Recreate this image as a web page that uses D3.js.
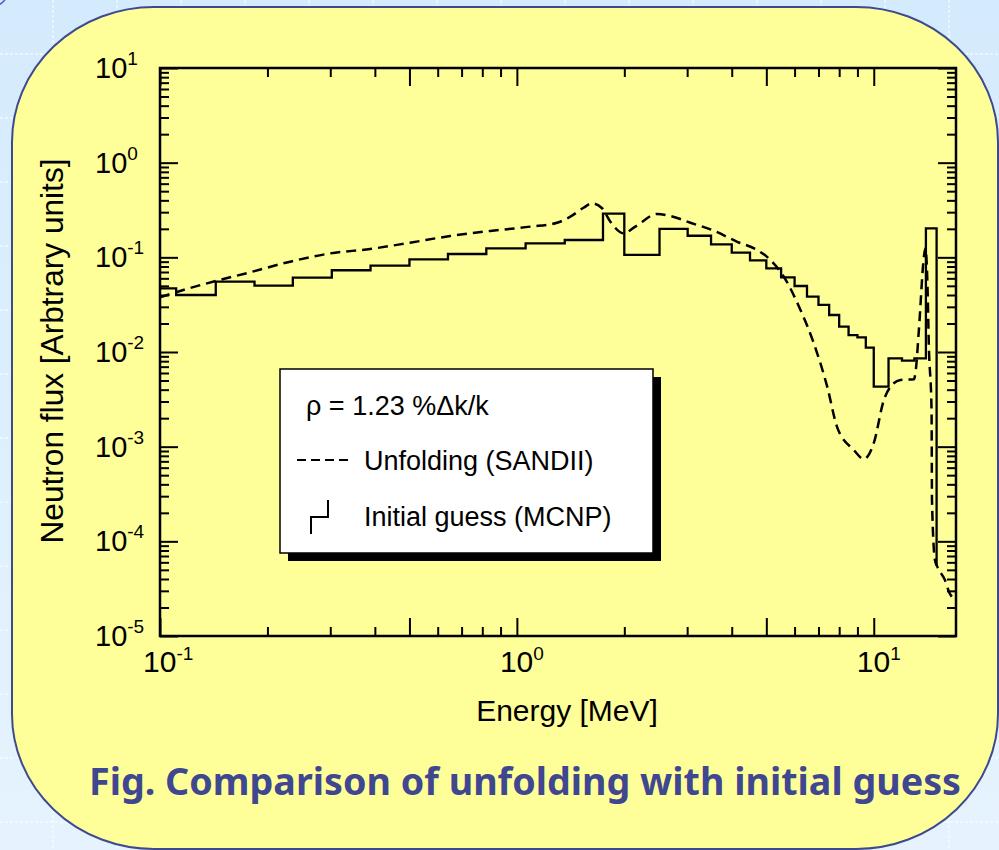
<!DOCTYPE html>
<html>
<head>
<meta charset="utf-8">
<script src="https://cdn.jsdelivr.net/npm/d3@7"></script>
<style>
body { margin: 0; background: #d6ecfd; }
svg { display: block; }
</style>
</head>
<body>
<svg width="999" height="850"></svg>
<script>
// MCNP initial guess: group boundaries [MeV] and flux per group
var mcnpEdges = [0.1, 0.111, 0.1433, 0.184, 0.2356, 0.303, 0.389, 0.5, 0.641, 0.821, 1.058, 1.362, 1.743, 2.0,
    2.51, 3.01, 3.5, 4.0, 4.5, 5.0, 5.5, 6.0, 6.5, 7.0, 7.5, 8.0, 8.5, 9.0, 9.5, 10, 11, 12, 13, 14, 15];
var mcnpFlux = [0.0471, 0.040, 0.0553, 0.0502, 0.061, 0.073, 0.0817, 0.0953, 0.1084, 0.1245, 0.1407, 0.1525, 0.29,
    0.106, 0.20, 0.169, 0.137, 0.112, 0.093, 0.0766, 0.0615, 0.0498, 0.0384, 0.0314, 0.0246, 0.0185, 0.0151, 0.0143, 0.0111,
    0.0043, 0.00857, 0.0081, 0.00857, 0.2025];
var mcnpTail = 5.5e-5;

// SANDII unfolded spectrum
var sandEnergy = [0.1, 0.1162, 0.1442, 0.1788, 0.2315, 0.2997, 0.388, 0.502, 0.650, 0.842, 1.09, 1.296, 1.412, 1.538,
    1.624, 1.733, 1.828, 1.992, 2.148, 2.471, 2.693, 3.064, 3.562, 4.143, 4.713, 5.135, 5.597, 6.232, 6.792, 7.406,
    7.899, 8.795, 9.38, 10.0, 10.67, 11.14, 11.89, 12.96, 13.1, 13.38, 13.82, 13.95, 14.13, 14.27, 14.52, 14.56,
    14.84, 15.07, 15.83, 16.24, 16.96];
var sandFlux = [0.0378, 0.0452, 0.0566, 0.0695, 0.090, 0.110, 0.1225, 0.1428, 0.168, 0.190, 0.211, 0.232, 0.269, 0.334,
    0.372, 0.330, 0.238, 0.1795, 0.211, 0.287, 0.273, 0.232, 0.191, 0.146, 0.1196, 0.0937, 0.0624, 0.0278, 0.01236, 0.0043,
    0.0016, 0.00092, 0.00074, 0.00109, 0.0031, 0.0043, 0.00506, 0.00515, 0.0062, 0.0171, 0.1016, 0.125, 0.0576, 0.0114,
    0.0024, 0.00027, 0.0000635, 0.000054, 0.000039, 0.0000294, 0.000024];

var xDecades = [-1, 0, 1];
var yDecades = [-5, -4, -3, -2, -1, 0, 1];
var legendTitle = "\u03c1 = 1.23 %\u0394k/k";
var legendLabels = ["Unfolding (SANDII)", "Initial guess (MCNP)"];
var xTitle = "Energy [MeV]";
var yTitle = "Neutron flux [Arbtrary units]";
var caption = "Fig. Comparison of unfolding with initial guess";

var svg = d3.select("svg"),
    width = +svg.attr("width"),
    height = +svg.attr("height");

var font = "'Liberation Sans', Arial, sans-serif";

// background: pale blue fading downwards, with dotted white grid
var grad = svg.append("defs").append("linearGradient")
    .attr("id", "bg").attr("x1", 0).attr("y1", 0).attr("x2", 0).attr("y2", 1);
grad.append("stop").attr("offset", 0).attr("stop-color", "#d4ebfd");
grad.append("stop").attr("offset", 1).attr("stop-color", "#e6f3fe");
svg.append("rect").attr("width", width).attr("height", height).attr("fill", "url(#bg)");
var grid = svg.append("g").attr("stroke", "#ffffff").attr("stroke-width", 1).attr("stroke-dasharray", "3,2");
d3.range(-11, width, 64).forEach(function(gx) {
    grid.append("line").attr("x1", gx).attr("x2", gx).attr("y1", 0).attr("y2", height);
});
d3.range(-10, height, 64).forEach(function(gy) {
    grid.append("line").attr("y1", gy).attr("y2", gy).attr("x1", 0).attr("x2", width);
});
svg.append("circle").attr("cx", -10).attr("cy", -12).attr("r", 19)
    .attr("fill", "none").attr("stroke", "#4a5bc4").attr("stroke-width", 1.5);

// yellow rounded panel
svg.append("rect")
    .attr("x", 12).attr("y", 7).attr("width", 986).attr("height", 842)
    .attr("rx", 142).attr("ry", 135)
    .attr("fill", "#ffff99").attr("stroke", "#3d4a8f").attr("stroke-width", 2);

var x = d3.scaleLog().domain([0.1, 17]).range([160, 956]);
var y = d3.scaleLog().domain([1e-5, 10]).range([636, 68]);

var xLong = [], xShort = [];
xDecades.forEach(function(n) {
    d3.range(1, 10).forEach(function(k) {
        var v = k * Math.pow(10, n);
        if (v > 17) return;
        if (k === 1 || k === 5) xLong.push(v); else xShort.push(v);
    });
});
var yMajor = [], yMinor = [];
yDecades.forEach(function(n) {
    yMajor.push(Math.pow(10, n));
    if (n < 1) d3.range(2, 10).forEach(function(k) { yMinor.push(k * Math.pow(10, n)); });
});

function styleAxis(g) {
    g.select(".domain").remove();
    g.selectAll("line").attr("stroke", "#000").attr("stroke-width", 2);
}

var axes = svg.append("g");
[[d3.axisBottom, 636], [d3.axisTop, 68]].forEach(function(a) {
    axes.append("g").attr("transform", "translate(0," + a[1] + ")")
        .call(a[0](x).tickValues(xShort).tickSize(-9).tickFormat("")).call(styleAxis);
    axes.append("g").attr("transform", "translate(0," + a[1] + ")")
        .call(a[0](x).tickValues(xLong).tickSize(-18).tickFormat("")).call(styleAxis);
});
[[d3.axisLeft, 160], [d3.axisRight, 956]].forEach(function(a) {
    axes.append("g").attr("transform", "translate(" + a[1] + ",0)")
        .call(a[0](y).tickValues(yMinor).tickSize(-9).tickFormat("")).call(styleAxis);
    axes.append("g").attr("transform", "translate(" + a[1] + ",0)")
        .call(a[0](y).tickValues(yMajor).tickSize(-18).tickFormat("")).call(styleAxis);
});

// frame
svg.append("rect")
    .attr("x", 160).attr("y", 68).attr("width", 796).attr("height", 568)
    .attr("fill", "none").attr("stroke", "#000").attr("stroke-width", 2.5);

// tick labels with superscript exponents
xDecades.forEach(function(n) {
    var t = svg.append("text")
        .attr("x", x(Math.pow(10, n)) - 17).attr("y", 672)
        .attr("font-family", font).attr("font-size", 30).text("10");
    t.append("tspan").attr("dy", -12).attr("font-size", 19).text(n);
});
yDecades.forEach(function(n) {
    var t = svg.append("text")
        .attr("x", 95).attr("y", y(Math.pow(10, n)) + 10)
        .attr("font-family", font).attr("font-size", 29).text("10");
    t.append("tspan").attr("dy", -13).attr("font-size", 19).text(n);
});

svg.append("text")
    .attr("x", 567).attr("y", 721).attr("text-anchor", "middle")
    .attr("font-family", font).attr("font-size", 30).text(xTitle);
svg.append("text")
    .attr("transform", "translate(63,351) rotate(-90)").attr("text-anchor", "middle")
    .attr("textLength", 385).attr("lengthAdjust", "spacingAndGlyphs")
    .attr("font-family", font).attr("font-size", 31).text(yTitle);

// data
svg.append("clipPath").attr("id", "plot")
    .append("rect").attr("x", 160).attr("y", 68).attr("width", 796).attr("height", 568);

var steps = mcnpFlux.map(function(v, i) { return [mcnpEdges[i], v]; });
steps.push([mcnpEdges[mcnpEdges.length - 1], mcnpTail]);

svg.append("path")
    .datum(steps)
    .attr("clip-path", "url(#plot)")
    .attr("fill", "none").attr("stroke", "#000").attr("stroke-width", 2.3)
    .attr("d", d3.line()
        .x(function(d) { return x(d[0]); })
        .y(function(d) { return y(d[1]); })
        .curve(d3.curveStepAfter));

svg.append("path")
    .datum(sandEnergy.map(function(e, i) { return [e, sandFlux[i]]; }))
    .attr("clip-path", "url(#plot)")
    .attr("fill", "none").attr("stroke", "#000").attr("stroke-width", 2.5)
    .attr("stroke-dasharray", "10,6")
    .attr("d", d3.line()
        .x(function(d) { return x(d[0]); })
        .y(function(d) { return y(d[1]); })
        .curve(d3.curveMonotoneX));

// legend
var lg = svg.append("g");
lg.append("rect").attr("x", 288).attr("y", 377).attr("width", 373).attr("height", 184).attr("fill", "#000");
lg.append("rect").attr("x", 280).attr("y", 369).attr("width", 373).attr("height", 184)
    .attr("fill", "#fff").attr("stroke", "#000").attr("stroke-width", 1.5);
lg.append("text").attr("x", 306).attr("y", 415)
    .attr("font-family", font).attr("font-size", 27).text(legendTitle);
lg.append("line").attr("x1", 297).attr("x2", 349).attr("y1", 460).attr("y2", 460)
    .attr("stroke", "#000").attr("stroke-width", 2).attr("stroke-dasharray", "9,5");
lg.append("path").attr("d", "M311,534V517H328V500")
    .attr("fill", "none").attr("stroke", "#000").attr("stroke-width", 2);
legendLabels.forEach(function(s, i) {
    lg.append("text").attr("x", 364).attr("y", 470 + i * 56)
        .attr("font-family", font).attr("font-size", 27).text(s);
});

// caption
svg.append("text")
    .attr("x", 89).attr("y", 795)
    .attr("textLength", 872).attr("lengthAdjust", "spacingAndGlyphs")
    .attr("font-family", "'Noto Sans', 'Open Sans', sans-serif").attr("font-weight", "bold")
    .attr("font-size", 37).attr("fill", "#3f4790")
    .text(caption);
</script>
</body>
</html>
